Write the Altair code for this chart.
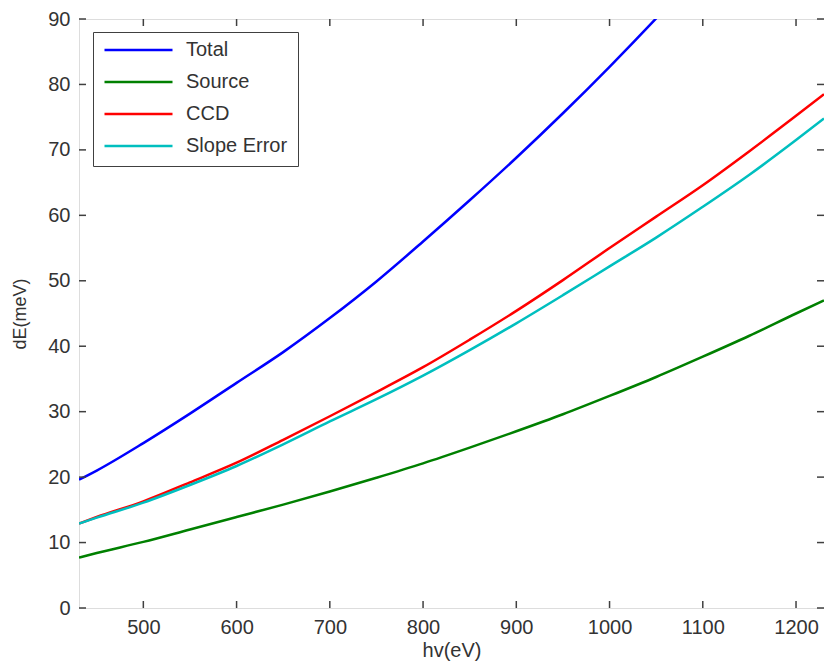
import altair as alt
import pandas as pd

hv = [431, 450, 500, 550, 600, 650, 700, 750, 800, 850, 900, 950, 1000, 1050, 1100, 1150, 1200, 1230]
total = [19.6, 21.0, 25.2, 29.7, 34.4, 39.1, 44.3, 49.9, 56.0, 62.3, 68.8, 75.6, 82.7, 90.1, 97.8, None, None, None]
source = [7.7, 8.4, 10.1, 12.0, 13.9, 15.8, 17.8, 19.9, 22.1, 24.5, 27.0, 29.6, 32.4, 35.3, 38.4, 41.6, 45.0, 47.0]
ccd = [12.9, 13.9, 16.3, 19.2, 22.2, 25.7, 29.3, 33.0, 36.8, 41.0, 45.4, 50.1, 55.0, 59.8, 64.6, 69.8, 75.2, 78.5]
slope = [12.9, 13.8, 16.1, 18.8, 21.7, 25.0, 28.5, 31.9, 35.5, 39.4, 43.5, 47.8, 52.2, 56.6, 61.3, 66.2, 71.5, 74.8]

series_names = ["Total", "Source", "CCD", "Slope Error"]
series_colors = ["#0000FF", "#008000", "#FF0000", "#00BFBF"]
x_ticks = [500, 600, 700, 800, 900, 1000, 1100, 1200]
y_ticks = [0, 10, 20, 30, 40, 50, 60, 70, 80, 90]

rows = []
for name, vals in zip(series_names, [total, source, ccd, slope]):
    for x, v in zip(hv, vals):
        if v is not None:
            rows.append({"hv": x, "dE": v, "series": name})
df = pd.DataFrame(rows)

W, H = 745, 589
FONT = "Liberation Sans"
AX = "#404040"
TXT = "#333333"

xs = alt.Scale(domain=[431, 1230], nice=False, zero=False)
ys = alt.Scale(domain=[0, 90], nice=False)

lines = alt.Chart(df).mark_line(strokeWidth=2.5, clip=True, interpolate="monotone").encode(
    x=alt.X("hv:Q", scale=xs, title="hv(eV)",
            axis=alt.Axis(values=x_ticks, format="d", ticks=False, domain=False, grid=False,
                          labelFontSize=20, labelFont=FONT, labelColor=TXT,
                          labelPadding=9, titleFontSize=20, titleFont=FONT,
                          titleFontWeight="normal", titleColor=TXT, titlePadding=3)),
    y=alt.Y("dE:Q", scale=ys, title="dE(meV)",
            axis=alt.Axis(values=y_ticks, format="d", ticks=False, domain=False, grid=False,
                          labelFontSize=20, labelFont=FONT, labelColor=TXT,
                          labelPadding=9, titleFontSize=18, titleFont=FONT,
                          titleFontWeight="normal", titleColor=TXT, titlePadding=18)),
    color=alt.Color("series:N", sort=series_names,
                    scale=alt.Scale(domain=series_names, range=series_colors),
                    legend=alt.Legend(title=None, orient="none", legendX=14, legendY=13,
                                      symbolType="stroke", symbolSize=4624,
                                      symbolStrokeWidth=2.5, labelFontSize=20,
                                      labelFont=FONT, labelColor=TXT,
                                      labelOffset=12, rowPadding=12, clipHeight=16,
                                      padding=10, fillColor="white", strokeColor=AX)),
    detail="series:N",
)

xt = pd.DataFrame({"t": x_ticks})
yt = pd.DataFrame({"t": y_ticks})
TL = 7
bottom_ticks = alt.Chart(xt).mark_rule(color=AX, strokeWidth=1.5).encode(
    x=alt.X("t:Q", scale=xs), y=alt.value(H), y2=alt.value(H - TL))
top_ticks = alt.Chart(xt).mark_rule(color=AX, strokeWidth=1.5).encode(
    x=alt.X("t:Q", scale=xs), y=alt.value(0), y2=alt.value(TL))
left_ticks = alt.Chart(yt).mark_rule(color=AX, strokeWidth=1.5).encode(
    y=alt.Y("t:Q", scale=ys), x=alt.value(0), x2=alt.value(TL))
right_ticks = alt.Chart(yt).mark_rule(color=AX, strokeWidth=1.5).encode(
    y=alt.Y("t:Q", scale=ys), x=alt.value(W), x2=alt.value(W - TL))

chart = alt.layer(lines, bottom_ticks, top_ticks, left_ticks, right_ticks).properties(
    width=W, height=H,
    autosize=alt.AutoSizeParams(type="none"),
    padding={"left": 71, "top": 11, "right": 0, "bottom": 54},
).configure_view(stroke=AX, strokeWidth=1.5).configure(background="white")

chart.save("out.html", embed_options={"renderer": "svg", "actions": False})
